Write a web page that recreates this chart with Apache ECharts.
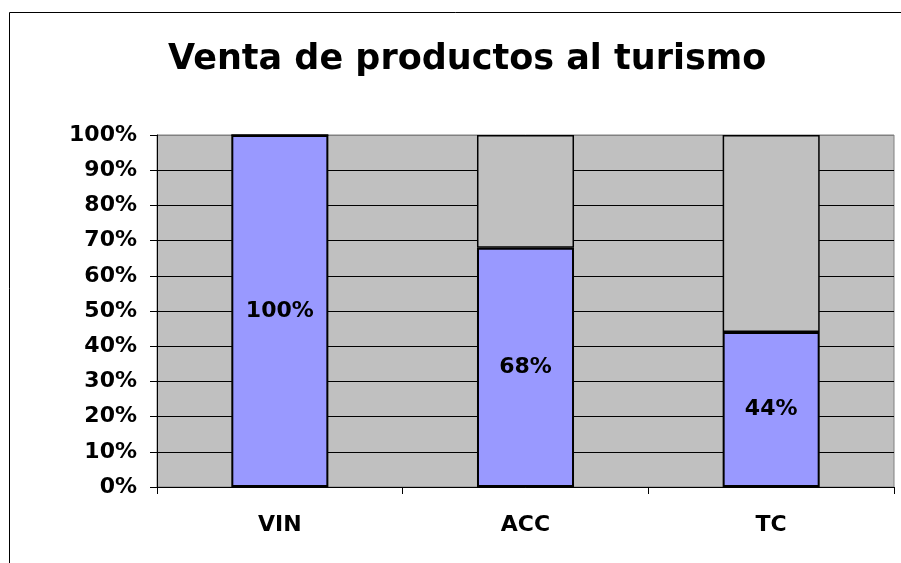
<!DOCTYPE html>
<html>
<head>
<meta charset="utf-8">
<script src="https://cdn.jsdelivr.net/npm/echarts@6/dist/echarts.min.js"></script>
<style>
  html, body { margin: 0; padding: 0; background: #fff; }
  #chart { width: 901px; height: 563px; }
</style>
</head>
<body>
<div id="chart"></div>
<script>
var categories = ['VIN', 'ACC', 'TC'];
var ventas = [100, 68, 44];
var resto = [0, 32, 56];
var yTicks = [0, 10, 20, 30, 40, 50, 60, 70, 80, 90, 100];

var fuente = 'DejaVu Sans';
var gridColors = yTicks.map(function (t) { return t === 100 ? '#808080' : '#000'; });

echarts.init(document.getElementById('chart')).setOption({
    animation: false,
    backgroundColor: '#fff',
    title: {
        text: 'Venta de productos al turismo',
        left: 163,
        top: 37,
        textStyle: { fontFamily: fuente, fontWeight: 'bold', fontSize: 35, color: '#000' }
    },
    graphic: [{
        type: 'rect',
        shape: { x: 9.5, y: 12.5, width: 1000, height: 1000 },
        style: { fill: 'none', stroke: '#000', lineWidth: 1 },
        z: 100
    }],
    grid: {
        left: 157, right: 7, top: 135, bottom: 76,
        show: true, backgroundColor: '#C0C0C0', borderColor: '#808080', borderWidth: 1
    },
    xAxis: {
        type: 'category',
        data: categories,
        axisLine: { lineStyle: { color: '#000', width: 1 } },
        axisTick: { show: true, length: 7, lineStyle: { color: '#000' } },
        axisLabel: {
            margin: 27,
            fontFamily: fuente, fontWeight: 'bold', fontSize: 22, color: '#000'
        }
    },
    yAxis: {
        type: 'value',
        min: 0, max: 100, interval: 10,
        axisLine: { show: true, lineStyle: { color: '#000', width: 1 } },
        axisTick: { show: true, length: 7, lineStyle: { color: '#000' } },
        splitLine: { show: true, lineStyle: { color: gridColors, width: 1 } },
        axisLabel: {
            margin: 20,
            formatter: '{value}%',
            fontFamily: fuente, fontWeight: 'bold', fontSize: 22, color: '#000'
        }
    },
    series: [
        {
            name: 'Venta',
            type: 'bar',
            stack: 'total',
            barWidth: '39.5%',
            data: ventas,
            itemStyle: { color: '#9999FF', borderColor: '#000', borderWidth: 2 },
            label: {
                show: true, position: 'inside', formatter: '{c}%',
                fontFamily: fuente, fontWeight: 'bold', fontSize: 22, color: '#000'
            },
            z: 3
        },
        {
            name: 'Resto',
            type: 'bar',
            stack: 'total',
            barWidth: '39.5%',
            data: resto,
            itemStyle: { color: '#C0C0C0', borderColor: '#000', borderWidth: 1.5 },
            z: 2
        }
    ]
});
</script>
</body>
</html>
